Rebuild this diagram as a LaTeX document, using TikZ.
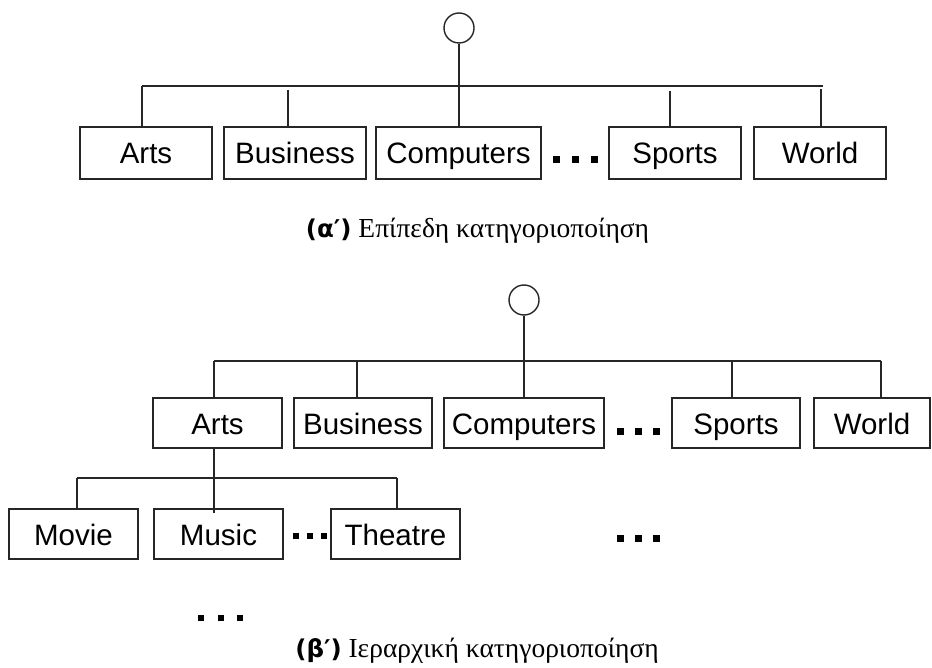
\documentclass[tikz,border=0pt]{standalone}
\usepackage{fontspec}
\setmainfont{Liberation Serif}
\newfontfamily\boxfont{Liberation Sans}
\newfontfamily\labfont{DejaVu Sans}
\begin{document}
\begin{tikzpicture}[x=1pt,y=-1pt,
  line width=1.4pt, draw=black!85,
  cat/.style={draw, rectangle, inner sep=0pt, text height=22pt, text depth=0pt,
    font=\boxfont\fontsize{29.5}{32}\selectfont},
  rootnode/.style={draw, circle, minimum size=30pt, inner sep=0pt},
  captext/.style={font=\fontsize{27.5}{30}\selectfont, inner sep=0pt}]
\useasboundingbox (0,0) rectangle (932,668);

% three square dots centred at (x,y): spacing, size
\newcommand\tridots[4]{%
  \foreach \k in {-1,0,1}
    \fill[black] ({#1+\k*#3-#4/2},{#2-#4/2}) rectangle ({#1+\k*#3+#4/2},{#2+#4/2});}
\newcommand\captlabel[1]{{\labfont\bfseries\fontsize{24.5}{28}\selectfont(#1′)}}

% ---------- flat categorisation ----------
\node[rootnode] (r1) at (459,28) {};
\node[cat, minimum width=132pt, minimum height=52pt] (arts1) at (146,153) {Arts};
\node[cat, minimum width=142pt, minimum height=52pt] (bus1) at (295,153) {Business};
\node[cat, minimum width=165pt, minimum height=52pt] (comp1) at (458.5,153) {Computers};
\node[cat, minimum width=132pt, minimum height=52pt] (spo1) at (675,153) {Sports};
\node[cat, minimum width=132pt, minimum height=52pt] (wor1) at (820,153) {World};
\tridots{575.5}{160}{19}{7}

\coordinate (b1L) at (142,86);
\coordinate (b1R) at (823,86);
\coordinate (d1bus) at (288,90);
\coordinate (d1spo) at (670,91);
\coordinate (d1wor) at (821,89);
\draw (b1L) -- (b1R);
\draw (r1) -- (r1 |- comp1.north);
\draw (b1L) -- (b1L |- arts1.north);
\draw (d1bus) -- (d1bus |- bus1.north);
\draw (d1spo) -- (d1spo |- spo1.north);
\draw (d1wor) -- (d1wor |- wor1.north);

\node[captext] (capa) at (477.5,231) {\captlabel{α} Επίπεδη κατηγοριοποίηση};

% ---------- hierarchical categorisation ----------
\node[rootnode] (r2) at (524,300) {};
\node[cat, minimum width=129pt, minimum height=50pt] (arts2) at (217.5,423) {Arts};
\node[cat, minimum width=138pt, minimum height=50pt] (bus2) at (363,423) {Business};
\node[cat, minimum width=160pt, minimum height=50pt] (comp2) at (524,423) {Computers};
\node[cat, minimum width=128pt, minimum height=50pt] (spo2) at (736,423) {Sports};
\node[cat, minimum width=116pt, minimum height=50pt] (wor2) at (872,423) {World};
\tridots{638.5}{431}{18}{7}

\coordinate (b2L) at (214,361);
\coordinate (b2R) at (881,361);
\coordinate (d2bus) at (357,361);
\coordinate (d2spo) at (732,361);
\draw (b2L) -- (b2R);
\draw (r2) -- (r2 |- comp2.north);
\draw (b2L) -- (b2L |- arts2.north);
\draw (d2bus) -- (d2bus |- bus2.north);
\draw (d2spo) -- (d2spo |- spo2.north);
\draw (b2R) -- (b2R |- wor2.north);

% sub-categories of Arts
\node[cat, minimum width=129pt, minimum height=50pt] (mov) at (73.5,534) {Movie};
\node[cat, minimum width=129pt, minimum height=50pt] (mus) at (218.5,534) {Music};
\node[cat, minimum width=129pt, minimum height=50pt] (the) at (395.5,534) {Theatre};
\tridots{310}{536}{14}{6}

\coordinate (b3L) at (77,478);
\coordinate (b3R) at (397,478);
\coordinate (d3mus) at (214,513);
\draw (b3L) -- (b3R);
\draw (arts2.south -| d3mus) -- (d3mus);
\draw (b3L) -- (b3L |- mov.north);
\draw (b3R) -- (b3R |- the.north);

\tridots{638.5}{538}{18}{7}
\tridots{220.5}{618}{19.5}{6}

\node[captext] (capb) at (477,651) {\captlabel{β} Ιεραρχική κατηγοριοποίηση};
\end{tikzpicture}
\end{document}
